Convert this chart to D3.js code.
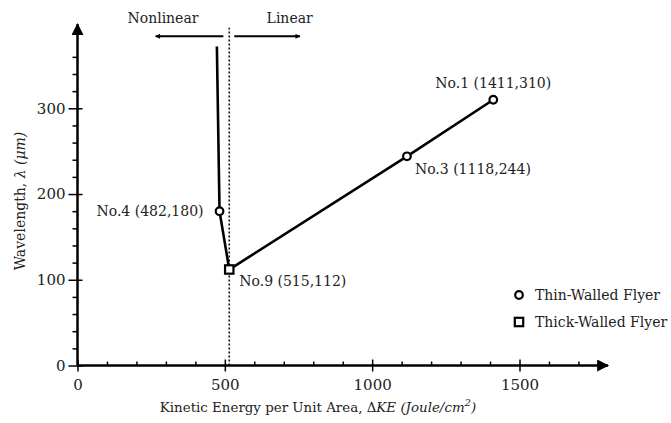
<!DOCTYPE html>
<html>
<head>
<meta charset="utf-8">
<style>
  body { margin: 0; background: #fff; }
  svg { display: block; font-family: "DejaVu Serif", serif; }
</style>
<script src="https://cdn.jsdelivr.net/npm/d3@7"></script>
</head>
<body>
<svg id="chart" width="671" height="423"></svg>
<script>
// data
let names = ["No.1", "No.3", "No.4", "No.9"]
let energy = [1411, 1118, 482, 515]
let wavelength = [310, 244, 180, 112]
let flyer = ["thin", "thin", "thin", "thick"]

// the curve starts above No.4 and runs through the points in this order
let lineKE = [473, 482, 515, 1118, 1411]
let lineWL = [372, 180, 112, 244, 310]

let xTicks = [0, 500, 1000, 1500]
let xMinor = [100, 200, 300, 400, 600, 700, 800, 900, 1100, 1200, 1300, 1400, 1600, 1700]
let yTicks = [0, 100, 200, 300]
let yMinor = [20, 40, 60, 80, 120, 140, 160, 180, 220, 240, 260, 280, 320, 340, 360]

let boundary = 515
let legendItems = [{ label: "Thin-Walled Flyer", type: "thin" }, { label: "Thick-Walled Flyer", type: "thick" }]

let svg = d3.select("#chart")
let x = d3.scaleLinear().domain([0, 1500]).range([77.5, 519.5])
let y = d3.scaleLinear().domain([0, 300]).range([365.5, 108.3])

let defs = svg.append("defs")
defs.append("marker").attr("id", "head")
    .attr("viewBox", "0 0 10 10").attr("refX", 9).attr("refY", 5)
    .attr("markerWidth", 6).attr("markerHeight", 5).attr("markerUnits", "userSpaceOnUse")
    .attr("orient", "auto")
  .append("path").attr("d", "M0,0 L10,5 L0,10 Z").attr("fill", "#000")
defs.append("marker").attr("id", "bighead")
    .attr("viewBox", "0 0 10 10").attr("refX", 9).attr("refY", 5)
    .attr("markerWidth", 24).attr("markerHeight", 12).attr("markerUnits", "userSpaceOnUse")
    .attr("orient", "auto")
  .append("path").attr("d", "M0,0 L10,5 L0,10 Z").attr("fill", "#000")

// x axis
let xAxis = svg.append("g").attr("transform", `translate(0,${y(0)})`)
    .call(d3.axisBottom(x).tickValues(xTicks).tickSize(6).tickPadding(8).tickFormat(d3.format("d")))
xAxis.select(".domain").remove()
xAxis.selectAll(".tick line").attr("y1", -6).attr("y2", 6).attr("stroke-width", 1.5)
xAxis.selectAll(".tick text").attr("font-size", 15).attr("font-family", "DejaVu Serif").attr("fill", "#222")
svg.append("g").attr("transform", `translate(0,${y(0)})`)
    .call(d3.axisTop(x).tickValues(xMinor).tickSize(4).tickFormat(""))
    .call(g => g.select(".domain").remove())
    .selectAll(".tick line").attr("stroke-width", 1.5)
svg.append("line")
    .attr("x1", x(0)).attr("x2", x(1800))
    .attr("y1", y(0)).attr("y2", y(0))
    .attr("stroke", "#000").attr("stroke-width", 2.5)
    .attr("marker-end", "url(#bighead)")

// y axis
let yAxis = svg.append("g").attr("transform", `translate(${x(0)},0)`)
    .call(d3.axisLeft(y).tickValues(yTicks).tickSize(9).tickPadding(3))
yAxis.select(".domain").remove()
yAxis.selectAll(".tick line").attr("x1", 5).attr("x2", -9).attr("stroke-width", 1.5)
yAxis.selectAll(".tick text").attr("font-size", 15).attr("font-family", "DejaVu Serif").attr("fill", "#222")
svg.append("g").attr("transform", `translate(${x(0)},0)`)
    .call(d3.axisLeft(y).tickValues(yMinor).tickSize(5).tickFormat(""))
    .call(g => g.select(".domain").remove())
    .selectAll(".tick line").attr("stroke-width", 1.5)
svg.append("line")
    .attr("x1", x(0)).attr("x2", x(0))
    .attr("y1", y(0)).attr("y2", y(398))
    .attr("stroke", "#000").attr("stroke-width", 2.5)
    .attr("marker-end", "url(#bighead)")

// boundary between the regimes
svg.append("line")
    .attr("x1", x(boundary)).attr("x2", x(boundary))
    .attr("y1", y(0)).attr("y2", y(394))
    .attr("stroke", "#111").attr("stroke-width", 1.6).attr("stroke-dasharray", "2,2")

svg.append("line")
    .attr("x1", x(495)).attr("x2", x(265)).attr("y1", y(384)).attr("y2", y(384))
    .attr("stroke", "#000").attr("stroke-width", 2).attr("marker-end", "url(#head)")
svg.append("line")
    .attr("x1", x(532)).attr("x2", x(755)).attr("y1", y(384)).attr("y2", y(384))
    .attr("stroke", "#000").attr("stroke-width", 2).attr("marker-end", "url(#head)")
svg.append("text").attr("x", x(290)).attr("y", y(400))
    .attr("text-anchor", "middle").attr("font-size", 14).attr("fill", "#222").text("Nonlinear")
svg.append("text").attr("x", x(720)).attr("y", y(400))
    .attr("text-anchor", "middle").attr("font-size", 14).attr("fill", "#222").text("Linear")

// the curve
let line = d3.line().x(d => x(d[0])).y(d => y(d[1]))
svg.append("path")
    .datum(d3.zip(lineKE, lineWL))
    .attr("d", line)
    .attr("fill", "none").attr("stroke", "#000").attr("stroke-width", 2.6)

// markers
let pts = names.map((n, i) => ({ name: n, ke: energy[i], wl: wavelength[i], type: flyer[i] }))
function marker(g, type) {
    if (type == "thin") {
        g.append("circle").attr("r", 3.8)
            .attr("fill", "#fff").attr("stroke", "#000").attr("stroke-width", 2.2)
    } else {
        g.append("rect").attr("x", -4.2).attr("y", -4.2).attr("width", 8.4).attr("height", 8.4)
            .attr("fill", "#fff").attr("stroke", "#000").attr("stroke-width", 2.2)
    }
}
pts.forEach(p => {
    let g = svg.append("g").attr("transform", `translate(${x(p.ke)},${y(p.wl)})`)
    marker(g, p.type)
})

// point labels
let labelPos = {
    "No.1": { dx: -58, dy: -12, anchor: "start" },
    "No.3": { dx: 8, dy: 18, anchor: "start" },
    "No.4": { dx: -16, dy: 5, anchor: "end" },
    "No.9": { dx: 10, dy: 17, anchor: "start" }
}
pts.forEach(p => {
    let l = labelPos[p.name]
    svg.append("text")
        .attr("x", x(p.ke) + l.dx).attr("y", y(p.wl) + l.dy)
        .attr("text-anchor", l.anchor).attr("font-size", 14).attr("fill", "#222")
        .text(`${p.name} (${p.ke},${p.wl})`)
})

// legend
let legend = svg.append("g").attr("transform", "translate(519,295)")
legendItems.forEach((d, i) => {
    let g = legend.append("g").attr("transform", `translate(0,${i * 27})`)
    marker(g, d.type)
    g.append("text").attr("x", 16).attr("y", 5)
        .attr("font-size", 14).attr("fill", "#222").text(d.label)
})

// axis titles
let xt = svg.append("text").attr("x", 318).attr("y", 412)
    .attr("text-anchor", "middle").attr("font-size", 13.4).attr("fill", "#222")
xt.append("tspan").text("Kinetic Energy per Unit Area, Δ")
xt.append("tspan").attr("font-style", "italic").text("KE (Joule/cm")
xt.append("tspan").attr("font-style", "italic").attr("font-size", 10).attr("dy", -6).text("2")
xt.append("tspan").attr("font-style", "italic").attr("dy", 6).text(")")

let yt = svg.append("text").attr("transform", "translate(25,201) rotate(-90)")
    .attr("text-anchor", "middle").attr("font-size", 14).attr("fill", "#222")
yt.append("tspan").text("Wavelength, ")
yt.append("tspan").attr("font-style", "italic").text("λ (μm)")
</script>
</body>
</html>
